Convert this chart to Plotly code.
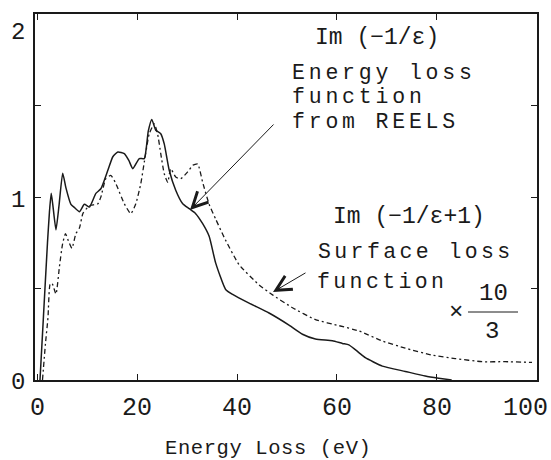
import plotly.graph_objects as go

# Energy-loss function Im(-1/eps) derived from REELS
loss_ev = [0.5, 1.2, 2.0, 2.4, 2.75, 3.1, 3.7, 4.3, 5.05, 5.7, 6.7, 7.5, 8.4, 9.4,
           10.4, 11.7, 12.7, 14.1, 15.1, 16.1, 17.4, 18.3, 19.1, 20.4, 21.4, 22.2,
           22.9, 23.7, 24.7, 25.4, 26.4, 27.7, 29.1, 30.4, 31.7, 33.1, 34.4, 35.7,
           37.7, 39.1, 42.4, 46.4, 50.4, 53.1, 55.7, 59.1, 61.1, 62.4, 64.4, 65.7,
           69.1, 73.7, 77.7, 80.4, 83.0]
loss_fn = [0.0, 0.35, 0.75, 0.92, 1.02, 0.95, 0.82, 0.95, 1.13, 1.05, 0.96, 0.94,
           0.92, 0.96, 0.945, 1.02, 1.045, 1.146, 1.22, 1.246, 1.237, 1.20, 1.155,
           1.21, 1.21, 1.36, 1.424, 1.365, 1.346, 1.29, 1.146, 1.037, 0.963, 0.936,
           0.909, 0.854, 0.785, 0.64, 0.495, 0.468, 0.42, 0.366, 0.30, 0.25, 0.224,
           0.215, 0.200, 0.192, 0.15, 0.122, 0.076, 0.047, 0.022, 0.01, 0.0]

# Surface loss function Im(-1/(eps+1)), scaled by 10/3
surf_ev = [1.0, 1.6, 2.1, 2.5, 2.9, 3.7, 4.4, 5.0, 5.6, 6.2, 6.9, 7.7, 8.4, 9.1,
           10.1, 10.7, 12.1, 12.7, 13.7, 14.7, 15.7, 17.4, 18.7, 19.7, 20.7, 21.4,
           22.4, 23.4, 24.1, 24.7, 25.4, 26.1, 26.7, 27.7, 28.7, 30.1, 31.1, 32.1,
           33.1, 34.4, 35.7, 37.4, 40.4, 44.4, 47.1, 51.1, 55.7, 60.4, 64.4, 69.1,
           73.7, 79.1, 83.7, 89.1, 93.7, 99.1]
surf_fn = [0.0, 0.2, 0.34, 0.52, 0.53, 0.47, 0.62, 0.74, 0.80, 0.76, 0.72, 0.80,
           0.83, 0.91, 0.945, 0.955, 0.963, 1.0, 1.10, 1.118, 1.073, 0.963, 0.909,
           0.963, 1.073, 1.19, 1.346, 1.40, 1.34, 1.237, 1.127, 1.08, 1.155, 1.109,
           1.10, 1.137, 1.173, 1.18, 1.08, 0.96, 0.88, 0.78, 0.63, 0.52, 0.465,
           0.395, 0.33, 0.297, 0.268, 0.213, 0.174, 0.136, 0.117, 0.10, 0.10, 0.096]

x_ticks = [0, 20, 40, 60, 80, 100]
x_labels = ["0", "20", "40", "60", "80", "100"]
y_ticks = [0, 0.5, 1, 1.5, 2]
y_labels = ["0", "1", "2"]

W, H = 551, 460
L, R, T, B = 35, 537, 14, 380   # plot-area edges in pixels
FONT = "Liberation Mono"
INK = "#1a1a1a"


def px(xp):
    return (xp - L) / (R - L)


def py(yp):
    return (B - yp) / (B - T)


fig = go.Figure()
fig.add_trace(go.Scatter(x=loss_ev, y=loss_fn, mode="lines",
                         line=dict(color=INK, width=1.5, shape="spline", smoothing=0.5),
                         showlegend=False))
fig.add_trace(go.Scatter(x=surf_ev, y=surf_fn, mode="lines",
                         line=dict(color=INK, width=1.3, dash="5px,3px,2px,3px",
                                   shape="spline", smoothing=0.5),
                         showlegend=False))

ann = []


def text(s, xp, yp, size, anchor="left", spacing=0):
    if spacing:
        s = f'<span style="letter-spacing:{spacing}px">{s}</span>'
    ann.append(dict(text=s, x=px(xp), y=py(yp), xref="paper", yref="paper",
                    xanchor=anchor, yanchor="middle", showarrow=False,
                    font=dict(family=FONT, size=size, color=INK)))


text("Im (−1/ε)", 313, 38, 23)
text("Energy loss", 290, 73, 21.5, spacing=3.8)
text("function", 290, 97.5, 21.5, spacing=3.8)
text("from REELS", 290, 122, 21.5, spacing=3.8)
text("Im (−1/ε+1)", 331, 217, 23)
text("Surface loss", 316, 252, 21.5, spacing=3.4)
text("function", 315, 282, 21.5, spacing=3.4)
text("×", 456, 312, 24, "center")
text("10", 493, 293, 24, "center")
text("3", 492, 331, 24, "center")
text("Energy Loss (eV)", 268, 449, 20.5, "center", spacing=0.6)

# y tick labels
for lab, yp in zip(y_labels, [383, 200, 32]):
    text(lab, 18, yp, 24, "center")

# x tick labels (the last one is pulled in to stay inside the page)
for val, lab in zip(x_ticks, x_labels):
    xc = L + (val + 0.5) / 100.6 * (R - L)
    if val == 100:
        xc = 525
    text(lab, xc, 408, 25, "center")

# arrows pointing at the curves
for tip, tail in [((190, 210), (275, 123)), ((273, 292), (307, 272))]:
    ann.append(dict(text="", x=px(tip[0]), y=py(tip[1]), xref="paper", yref="paper",
                    ax=tail[0] - tip[0], ay=tail[1] - tip[1], showarrow=True,
                    arrowhead=5, arrowsize=3, arrowwidth=1, arrowcolor=INK,
                    standoff=0))

fig.update_layout(
    width=W, height=H,
    margin=dict(l=L, r=W - R, t=T, b=H - B),
    paper_bgcolor="white", plot_bgcolor="white",
    annotations=ann,
    shapes=[dict(type="line", xref="paper", yref="paper",
                 x0=px(468), x1=px(518), y0=py(312), y1=py(312),
                 line=dict(color=INK, width=1))],
    xaxis=dict(range=[-0.5, 100.1], tickvals=x_ticks, ticks="inside", ticklen=6,
               tickwidth=1, tickcolor=INK, showline=True, linecolor=INK, linewidth=1.5,
               mirror="ticks", showgrid=False, zeroline=False, showticklabels=False),
    yaxis=dict(range=[0, 2], tickvals=y_ticks, ticks="inside", ticklen=6,
               tickwidth=1, tickcolor=INK, showline=True, linecolor=INK, linewidth=1.5,
               mirror="ticks", showgrid=False, zeroline=False, showticklabels=False),
)

fig.write_html("out.html")
